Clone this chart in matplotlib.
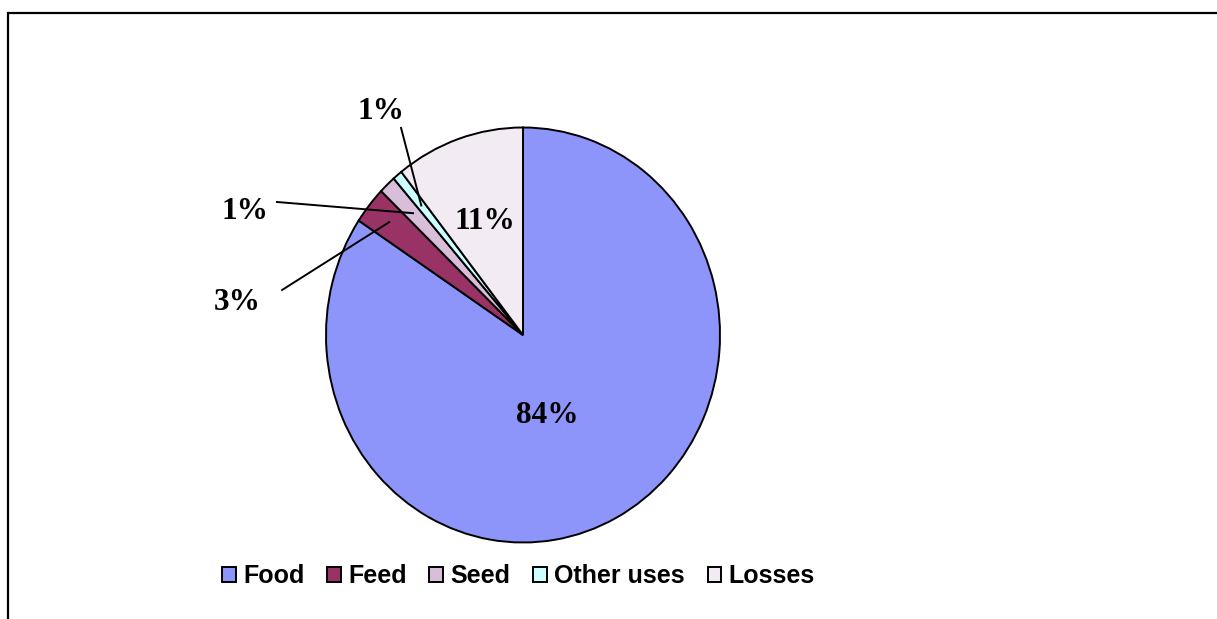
import numpy as np
import matplotlib
matplotlib.use("Agg")
import matplotlib.pyplot as plt
from matplotlib.patches import Rectangle

categories = ['Food', 'Feed', 'Seed', 'Other uses', 'Losses']
shares = [84.3, 2.9, 1.4, 0.8, 10.6]
pct_labels = ['84%', '3%', '1%', '1%', '11%']
colors = ['#8D95FA', '#993366', '#D8BED8', '#CCFFFF', '#F3EBF3']

W, H = 1217, 619
fig = plt.figure(figsize=(W / 100, H / 100), dpi=100)

# outer chart frame (cut off at right and bottom like the original)
fig.patches.append(Rectangle((8 / W, -0.05), 1.1, 1 - 13 / H + 0.05,
                             transform=fig.transFigure, fill=False,
                             edgecolor='black', linewidth=1.6))

# pie is slightly taller than wide, so use a non-equal aspect axes
cx, cy, rx, ry = 523, 335, 197, 207.5
ax = fig.add_axes([(cx - rx) / W, (H - cy - ry) / H, 2 * rx / W, 2 * ry / H])
wedges, _ = ax.pie(shares, colors=colors, startangle=90, counterclock=False,
                   wedgeprops=dict(edgecolor='black', linewidth=1.4))
ax.set_aspect('auto')
ax.set_xlim(-1, 1)
ax.set_ylim(-1, 1)
ax.axis('off')

font = dict(family='Liberation Serif', fontweight='bold', fontsize=22.5)

# label positions (data units of the pie axes); None = no leader line
label_pos = [(0.122, -0.386), (-1.452, 0.159), (-1.411, 0.593), (-0.721, 1.075), (-0.193, 0.545)]
line_start = [None, (-1.223, 0.217), (-1.249, 0.641), (-0.619, 0.998), None]
line_r = [None, 0.87, 0.81, 0.81, None]

for i, w in enumerate(wedges):
    ax.text(label_pos[i][0], label_pos[i][1], pct_labels[i], ha='center', va='center', **font)
    if line_start[i] is not None:
        mid = np.deg2rad((w.theta1 + w.theta2) / 2)
        ex, ey = line_r[i] * np.cos(mid), line_r[i] * np.sin(mid)
        ax.plot([line_start[i][0], ex], [line_start[i][1], ey], color='black',
                linewidth=1.4, clip_on=False)

leg = fig.legend(wedges, categories, loc='center', bbox_to_anchor=(0.426, 1 - 576 / H),
                 ncol=5, frameon=False, handlelength=0.55, handleheight=0.55,
                 handletextpad=0.3, columnspacing=0.9,
                 prop=dict(family='Liberation Sans', weight='bold', size=18))
for h in leg.legend_handles:
    h.set_linewidth(1.4)

fig.savefig('out.png', dpi=100)
